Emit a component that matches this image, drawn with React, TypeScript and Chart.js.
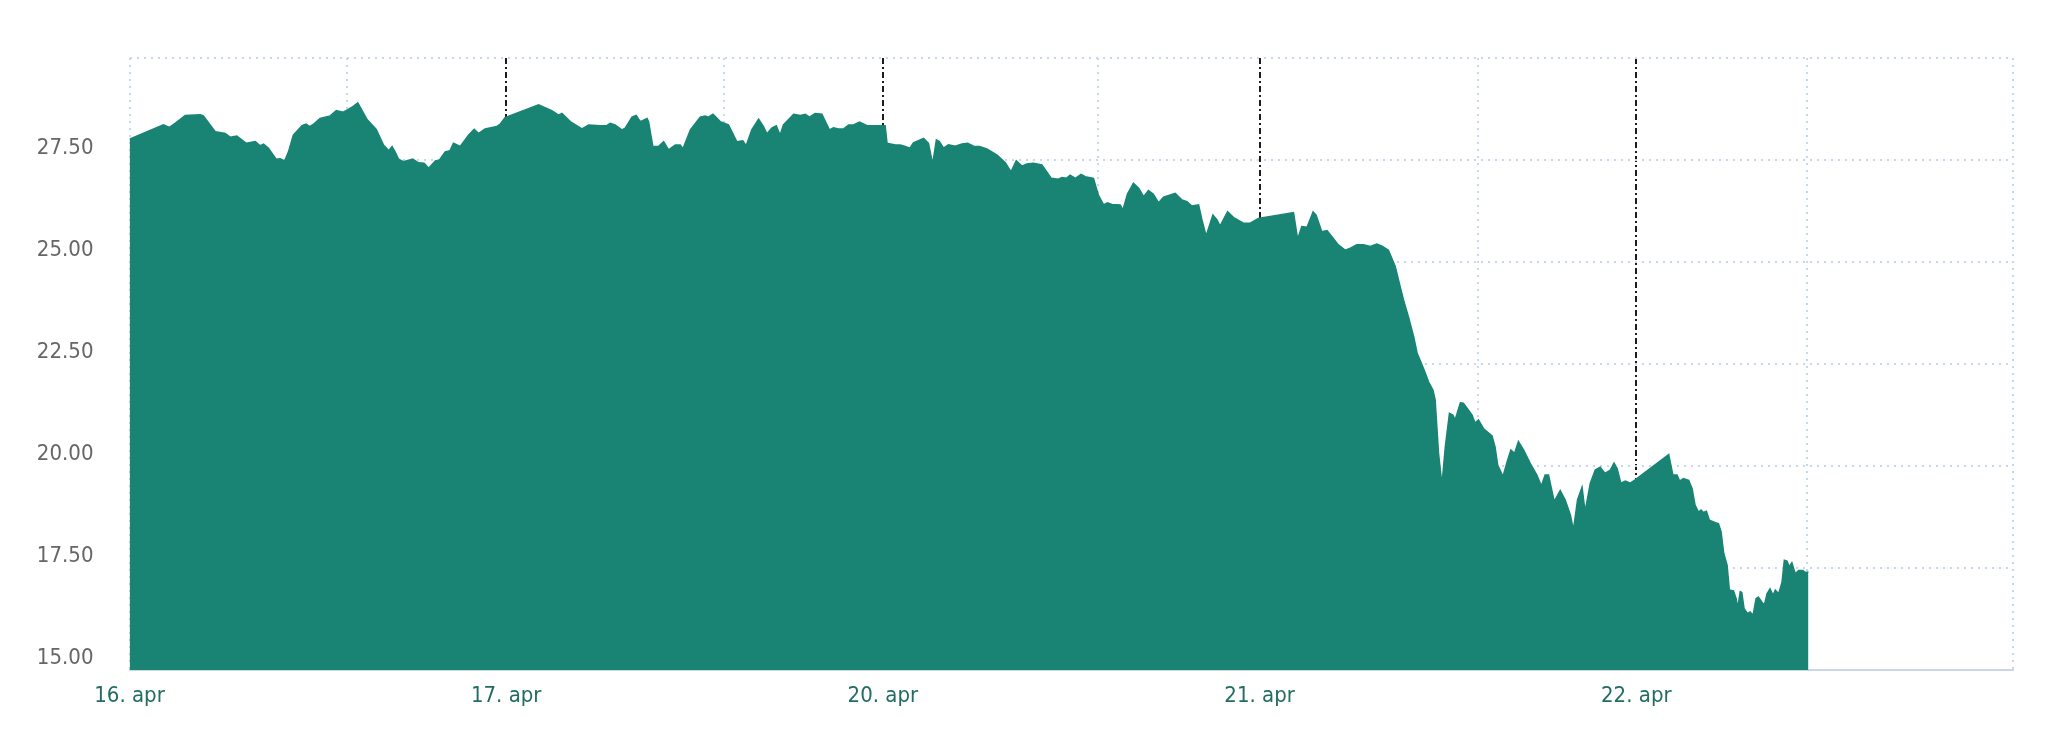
import React, { useEffect, useRef } from 'react';
import { Chart, registerables } from 'chart.js';

Chart.register(...registerables);

// Trading sessions shown on the (ordinal) time axis
const dayLabels = ['16. apr', '17. apr', '20. apr', '21. apr', '22. apr'];

// Position inside each session (0 = session start, 1 = next session start) and price
const apr16Time = [0.000, 0.090, 0.106, 0.121, 0.148, 0.188, 0.196, 0.228, 0.254, 0.267, 0.285, 0.310, 0.334, 0.347, 0.356, 0.369, 0.389, 0.400, 0.412, 0.422, 0.435, 0.458, 0.469, 0.478, 0.489, 0.506, 0.533, 0.549, 0.567, 0.581, 0.595, 0.606, 0.630, 0.655, 0.674, 0.688, 0.697, 0.705, 0.714, 0.727, 0.752, 0.767, 0.782, 0.794, 0.812, 0.823, 0.838, 0.851, 0.860, 0.878, 0.900, 0.915, 0.927, 0.944, 0.975, 0.984, 0.997];
const apr16Price = [28.01, 28.36, 28.30, 28.40, 28.59, 28.61, 28.58, 28.19, 28.15, 28.06, 28.09, 27.91, 27.95, 27.85, 27.89, 27.79, 27.52, 27.53, 27.48, 27.70, 28.11, 28.34, 28.38, 28.32, 28.38, 28.52, 28.58, 28.71, 28.67, 28.74, 28.82, 28.90, 28.50, 28.25, 27.87, 27.73, 27.83, 27.70, 27.52, 27.46, 27.52, 27.43, 27.42, 27.30, 27.48, 27.50, 27.70, 27.73, 27.91, 27.83, 28.11, 28.25, 28.15, 28.26, 28.32, 28.38, 28.54];

const apr17Time = [0.086, 0.121, 0.139, 0.148, 0.170, 0.201, 0.219, 0.250, 0.267, 0.276, 0.289, 0.307, 0.316, 0.334, 0.345, 0.356, 0.374, 0.378, 0.389, 0.404, 0.418, 0.431, 0.449, 0.462, 0.469, 0.489, 0.515, 0.528, 0.537, 0.549, 0.568, 0.590, 0.612, 0.628, 0.637, 0.652, 0.670, 0.683, 0.692, 0.705, 0.717, 0.727, 0.736, 0.763, 0.781, 0.794, 0.805, 0.820, 0.838, 0.858, 0.869, 0.882, 0.895, 0.909, 0.922, 0.938, 0.958];
const apr17Price = [28.85, 28.71, 28.60, 28.64, 28.44, 28.26, 28.36, 28.34, 28.34, 28.40, 28.36, 28.24, 28.28, 28.55, 28.59, 28.44, 28.52, 28.44, 27.84, 27.83, 27.95, 27.75, 27.87, 27.87, 27.77, 28.24, 28.55, 28.58, 28.55, 28.62, 28.44, 28.36, 27.95, 27.97, 27.85, 28.24, 28.50, 28.32, 28.14, 28.28, 28.34, 28.11, 28.36, 28.62, 28.59, 28.62, 28.55, 28.64, 28.62, 28.24, 28.29, 28.26, 28.26, 28.36, 28.36, 28.43, 28.34];

const apr20Time = [0.006, 0.011, 0.033, 0.046, 0.059, 0.072, 0.081, 0.108, 0.121, 0.132, 0.142, 0.150, 0.161, 0.174, 0.192, 0.210, 0.225, 0.241, 0.256, 0.276, 0.303, 0.325, 0.340, 0.354, 0.369, 0.382, 0.400, 0.422, 0.435, 0.447, 0.466, 0.475, 0.487, 0.497, 0.511, 0.526, 0.537, 0.559, 0.572, 0.586, 0.596, 0.608, 0.630, 0.637, 0.649, 0.665, 0.679, 0.692, 0.705, 0.718, 0.732, 0.745, 0.776, 0.794, 0.807, 0.820, 0.838, 0.847, 0.858, 0.876, 0.887, 0.895, 0.915, 0.931, 0.957, 0.975, 0.997];
const apr20Price = [28.34, 27.91, 27.87, 27.87, 27.83, 27.79, 27.92, 28.03, 27.91, 27.40, 27.99, 27.95, 27.79, 27.87, 27.84, 27.89, 27.91, 27.84, 27.83, 27.77, 27.62, 27.43, 27.21, 27.48, 27.35, 27.40, 27.42, 27.38, 27.21, 27.05, 27.03, 27.07, 27.05, 27.13, 27.05, 27.15, 27.09, 27.05, 26.64, 26.40, 26.45, 26.41, 26.40, 26.27, 26.66, 26.93, 26.81, 26.60, 26.75, 26.66, 26.45, 26.59, 26.68, 26.52, 26.48, 26.37, 26.40, 26.03, 25.64, 26.15, 26.03, 25.88, 26.23, 26.09, 25.95, 25.95, 26.07];

const apr21Time = [0.090, 0.101, 0.112, 0.126, 0.142, 0.150, 0.165, 0.179, 0.192, 0.209, 0.227, 0.241, 0.258, 0.276, 0.294, 0.311, 0.325, 0.342, 0.360, 0.373, 0.382, 0.395, 0.409, 0.418, 0.431, 0.440, 0.448, 0.460, 0.466, 0.475, 0.484, 0.493, 0.504, 0.513, 0.519, 0.533, 0.541, 0.564, 0.572, 0.581, 0.594, 0.617, 0.625, 0.632, 0.646, 0.657, 0.667, 0.677, 0.687, 0.701, 0.718, 0.736, 0.748, 0.758, 0.767, 0.782, 0.798, 0.811, 0.825, 0.833, 0.844, 0.856, 0.864, 0.878, 0.891, 0.904, 0.917, 0.931, 0.941, 0.949, 0.959, 0.971, 0.984, 0.997];
const apr21Price = [26.21, 25.56, 25.87, 25.85, 26.23, 26.15, 25.74, 25.77, 25.62, 25.42, 25.29, 25.34, 25.42, 25.42, 25.38, 25.44, 25.39, 25.29, 24.89, 24.40, 24.07, 23.66, 23.17, 22.77, 22.48, 22.27, 22.07, 21.86, 21.62, 20.31, 19.53, 20.47, 21.29, 21.25, 21.13, 21.55, 21.54, 21.25, 21.05, 21.13, 20.92, 20.74, 20.47, 20.02, 19.74, 20.10, 20.39, 20.31, 20.60, 20.39, 20.07, 19.78, 19.51, 19.78, 19.78, 19.13, 19.40, 19.17, 18.80, 18.43, 19.17, 19.48, 18.88, 19.58, 19.90, 19.97, 19.82, 19.90, 20.07, 19.94, 19.58, 19.63, 19.58, 19.66];

const apr22Time = [0.086, 0.097, 0.108, 0.115, 0.125, 0.139, 0.148, 0.156, 0.165, 0.172, 0.178, 0.186, 0.194, 0.210, 0.218, 0.225, 0.232, 0.241, 0.247, 0.258, 0.265, 0.269, 0.276, 0.280, 0.286, 0.295, 0.302, 0.310, 0.318, 0.324, 0.333, 0.340, 0.347, 0.355, 0.363, 0.369, 0.378, 0.387, 0.393, 0.400, 0.406, 0.413, 0.422, 0.431, 0.442, 0.449, 0.457];
const apr22Price = [20.28, 19.78, 19.78, 19.63, 19.69, 19.65, 19.45, 19.04, 18.87, 18.92, 18.86, 18.89, 18.67, 18.61, 18.59, 18.39, 17.86, 17.57, 16.96, 16.94, 16.75, 16.51, 16.92, 16.90, 16.51, 16.38, 16.42, 16.34, 16.75, 16.79, 16.67, 16.59, 16.87, 16.99, 16.83, 16.96, 16.87, 17.16, 17.69, 17.67, 17.53, 17.63, 17.36, 17.44, 17.44, 17.39, 17.40];

const sessionTimes = [apr16Time, apr17Time, apr20Time, apr21Time, apr22Time];
const sessionPrices = [apr16Price, apr17Price, apr20Price, apr21Price, apr22Price];

// Axis ticks
const xGridTicks = [0, 0.577, 1.578, 2.570, 3.579, 4.452, 5];
const yTicks = [15, 17.5, 20, 22.5, 25, 27.5, 30];

const FONT = '"DejaVu Sans Condensed", "DejaVu Sans"';
const AREA = '#1a8474';
const GRID = '#c8d8ec';

export default function App() {
  const canvasRef = useRef<HTMLCanvasElement | null>(null);

  useEffect(() => {
    document.body.style.margin = '0';
    const points = sessionTimes.flatMap((times, d) =>
      times.map((f, i) => ({ x: d + f, y: sessionPrices[d][i] }))
    );
    const chart = new Chart(canvasRef.current as HTMLCanvasElement, {
      type: 'line',
      data: {
        datasets: [
          {
            data: points,
            borderColor: AREA,
            backgroundColor: AREA,
            borderWidth: 1.5,
            fill: 'start',
            pointRadius: 0,
            tension: 0,
          },
        ],
      },
      options: {
        animation: false,
        responsive: true,
        maintainAspectRatio: false,
        layout: { padding: { top: 58, right: 35, left: 0, bottom: 0 } },
        plugins: { legend: { display: false }, tooltip: { enabled: false } },
        scales: {
          x: {
            type: 'linear',
            min: 0,
            max: 5,
            position: 'bottom',
            afterBuildTicks: (s: any) => {
              s.ticks = dayLabels.map((_, i) => ({ value: i }));
            },
            afterFit: (s: any) => {
              s.height = 74;
            },
            ticks: {
              autoSkip: false,
              maxRotation: 0,
              padding: 13,
              color: '#236c64',
              font: { family: FONT, size: 22 },
              callback: (v: any) => dayLabels[Number(v)] ?? '',
            },
            grid: {
              drawTicks: false,
              lineWidth: 2,
              color: (c: any) => (c.index === 0 ? 'rgba(0,0,0,0)' : '#1c1c1c'),
            },
            border: { display: true, color: '#ccd6eb', width: 2, dash: [6, 3, 2, 3] },
          },
          xg: {
            type: 'linear',
            min: 0,
            max: 5,
            position: 'bottom',
            afterBuildTicks: (s: any) => {
              s.ticks = xGridTicks.map((v) => ({ value: v }));
            },
            afterFit: (s: any) => {
              s.height = 0;
            },
            ticks: { display: false },
            grid: { drawTicks: false, lineWidth: 2, color: GRID },
            border: { display: false, dash: [2, 5] },
          },
          y: {
            type: 'linear',
            min: 15,
            max: 30,
            afterBuildTicks: (s: any) => {
              s.ticks = yTicks.map((v) => ({ value: v }));
            },
            afterFit: (s: any) => {
              s.width = 129.5;
            },
            ticks: {
              padding: 36,
              labelOffset: -12,
              color: '#666666',
              font: { family: FONT, size: 22 },
              callback: (v: any) => (Number(v) === 30 ? '' : Number(v).toFixed(2)),
            },
            grid: { drawTicks: false, lineWidth: 2, color: GRID },
            border: { display: false, dash: [2, 5] },
          },
        },
      },
    } as any);
    return () => chart.destroy();
  }, []);

  return (
    <div style={{ position: 'absolute', left: 0, top: 0, width: 2048, height: 744 }}>
      <canvas ref={canvasRef} />
    </div>
  );
}
